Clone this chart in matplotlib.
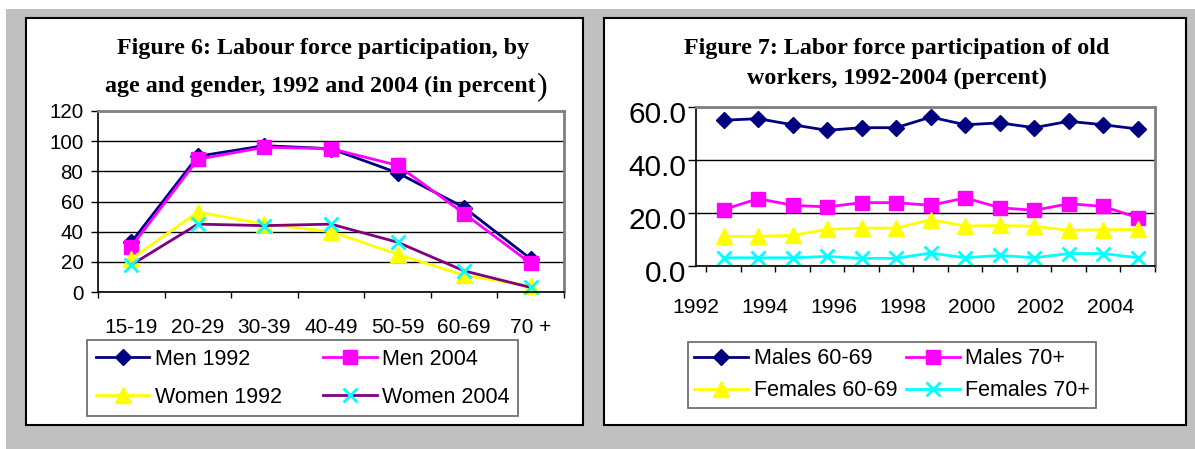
import matplotlib
matplotlib.use('Agg')
import matplotlib.pyplot as plt
from matplotlib.patches import Rectangle
import matplotlib.transforms as mtransforms

# Figure 6 data
ages = ['15-19', '20-29', '30-39', '40-49', '50-59', '60-69', '70 +']
men_1992 = [33, 90, 97, 95, 79, 56, 22]
men_2004 = [30, 88, 96, 95, 84, 52, 19]
women_1992 = [22, 53, 45, 40, 25, 11, 4]
women_2004 = [18, 45, 44, 45, 33, 14, 3]

# Figure 7 data
year_labels = ['1992', '1994', '1996', '1998', '2000', '2002', '2004']
males_60_69 = [55.0, 55.6, 53.3, 51.2, 52.2, 52.2, 56.2, 53.3, 54.0, 52.2, 54.6, 53.3, 51.7]
males_70 = [21.3, 25.4, 22.9, 22.3, 23.9, 23.9, 22.9, 25.7, 22.0, 21.0, 23.5, 22.5, 18.2]
females_60_69 = [11.2, 11.2, 11.6, 13.8, 14.3, 14.3, 17.5, 15.1, 15.3, 15.0, 13.5, 13.7, 13.8]
females_70 = [3.1, 3.1, 3.1, 3.6, 2.9, 2.9, 4.9, 3.1, 4.0, 3.1, 4.7, 4.7, 3.1]

W, H = 1195, 449
SANS = 'Liberation Sans'
SERIF = 'Liberation Serif'

fig = plt.figure(figsize=(W / 100, H / 100), dpi=100)
fig.patch.set_facecolor('white')


def fx(px):
    return px / W


def fy(py):
    return 1 - py / H


# grey page background and the two white chart boxes
fig.add_artist(Rectangle((fx(6), 0), 1 - fx(6), fy(9), transform=fig.transFigure,
                         facecolor='#c0c0c0', edgecolor='none', zorder=-2))
for x0, x1 in [(26, 583), (604, 1186)]:
    fig.add_artist(Rectangle((fx(x0), fy(425)), fx(x1 - x0), (425 - 18) / H,
                             transform=fig.transFigure, facecolor='white',
                             edgecolor='black', lw=1.5, zorder=-1))

styles = [
    dict(color='#000080', marker='D', ms=8.5, mfc='#000080', mec='#000080'),
    dict(color='#ff00ff', marker='s', ms=10, mfc='#ff00ff', mec='#ff00ff'),
    dict(color='#ffff00', marker='^', ms=11, mfc='#ffff00', mec='#ffff00'),
    dict(color='#800080', marker='x', ms=10, mfc='#00ffff', mec='#00ffff', mew=2),
]


def style_axes(ax):
    ax.set_facecolor('white')
    for s in ['left', 'bottom']:
        ax.spines[s].set_color('black')
        ax.spines[s].set_linewidth(1.2)
    for s in ['top', 'right']:
        ax.spines[s].set_color('#808080')
        ax.spines[s].set_linewidth(2)
    ax.yaxis.grid(True, color='black', lw=1)
    ax.set_axisbelow(True)
    ax.tick_params(axis='x', which='major', length=0)
    ax.tick_params(axis='x', which='minor', length=4.5, width=1, direction='out')
    ax.tick_params(axis='y', length=5, width=1, direction='out')


def row_major(items):
    # legend fills columns first; reorder so rows read left to right
    return [items[0], items[2], items[1], items[3]]


# ---- Figure 6 ----
ax1 = fig.add_axes([fx(98), fy(292), fx(466), 181 / H])
xs = list(range(len(ages)))
series1 = [(men_1992, 'Men 1992'), (men_2004, 'Men 2004'),
           (women_1992, 'Women 1992'), (women_2004, 'Women 2004')]
lines1 = []
for (vals, lab), st in zip(series1, styles):
    ln, = ax1.plot(xs, vals, lw=2, label=lab, clip_on=False, **st)
    lines1.append(ln)
ax1.set_xlim(-0.5, len(ages) - 0.5)
ax1.set_ylim(0, 120)
ax1.set_yticks(range(0, 121, 20))
ax1.set_xticks(xs)
ax1.set_xticklabels(ages, fontfamily=SANS, fontsize=15)
ax1.set_xticks([i - 0.5 for i in range(len(ages) + 1)], minor=True)
style_axes(ax1)
ax1.tick_params(axis='x', which='major', pad=19)
ax1.tick_params(axis='y', pad=5.5)
for t in ax1.get_yticklabels():
    t.set_fontfamily(SANS)
    t.set_fontsize(14.8)

fig.text(fx(323), fy(54), 'Figure 6: Labour force participation, by', ha='center',
         va='baseline', fontfamily=SERIF, fontweight='bold', fontsize=17.3)
fig.text(fx(536), fy(92), 'age and gender, 1992 and 2004 (in percent', ha='right',
         va='baseline', fontfamily=SERIF, fontweight='bold', fontsize=17.3)
fig.text(fx(537), fy(94), ')', ha='left', va='baseline', fontfamily=SERIF,
         fontsize=23)

leg1 = ax1.legend(handles=row_major(lines1), ncol=2, loc='upper left',
                  bbox_to_anchor=(fx(87), fy(340)), bbox_transform=fig.transFigure,
                  frameon=True, fancybox=False, edgecolor='#404040',
                  prop={'family': SANS, 'size': 15.5}, handlelength=2.5,
                  handletextpad=0.25, columnspacing=1.9, borderaxespad=0,
                  borderpad=0.4, labelspacing=0.8)
leg1.get_frame().set_linewidth(1.2)

# ---- Figure 7 ----
ax2 = fig.add_axes([fx(696), fy(266), fx(459), 159 / H])
xs2 = list(range(len(males_60_69)))
styles2 = styles[:3] + [dict(color='#00ffff', marker='x', ms=10, mfc='#00ffff',
                             mec='#00ffff', mew=2)]
series2 = [(males_60_69, 'Males 60-69'), (males_70, 'Males 70+'),
           (females_60_69, 'Females 60-69'), (females_70, 'Females 70+')]
lines2 = []
for (vals, lab), st in zip(series2, styles2):
    ln, = ax2.plot(xs2, vals, lw=2, label=lab, clip_on=False, **st)
    lines2.append(ln)
ax2.set_xlim(-0.5, len(xs2) - 0.5)
ax2.set_ylim(0, 60)
ax2.set_yticks([0, 20, 40, 60])
ax2.set_yticklabels(['0.0', '20.0', '40.0', '60.0'], fontfamily=SANS, fontsize=21.5)
ax2.set_xticks([2 * i - 0.8 for i in range(len(year_labels))])
ax2.set_xticklabels(year_labels, fontfamily=SANS, fontsize=15.2)
ax2.set_xticks([i - 0.5 for i in range(len(xs2) + 1)], minor=True)
style_axes(ax2)
ax2.tick_params(axis='y', length=6)
ax2.tick_params(axis='x', which='major', pad=23)
ax2.tick_params(axis='y', pad=1)
off = mtransforms.ScaledTranslation(0, -5 / 100, fig.dpi_scale_trans)
for t in ax2.get_yticklabels():
    t.set_transform(t.get_transform() + off)

fig.text(fx(897), fy(54), 'Figure 7: Labor force participation of old', ha='center',
         va='baseline', fontfamily=SERIF, fontweight='bold', fontsize=17.3)
fig.text(fx(897), fy(84), 'workers, 1992-2004 (percent)', ha='center',
         va='baseline', fontfamily=SERIF, fontweight='bold', fontsize=17.3)

leg2 = ax2.legend(handles=row_major(lines2), ncol=2, loc='upper left',
                  bbox_to_anchor=(fx(688), fy(342)), bbox_transform=fig.transFigure,
                  frameon=True, fancybox=False, edgecolor='#404040',
                  prop={'family': SANS, 'size': 15.5}, handlelength=2.5,
                  handletextpad=0.25, columnspacing=0.4, borderaxespad=0,
                  borderpad=0.3, labelspacing=0.5)
leg2.get_frame().set_linewidth(1.2)

fig.savefig('out.png', dpi=100)
